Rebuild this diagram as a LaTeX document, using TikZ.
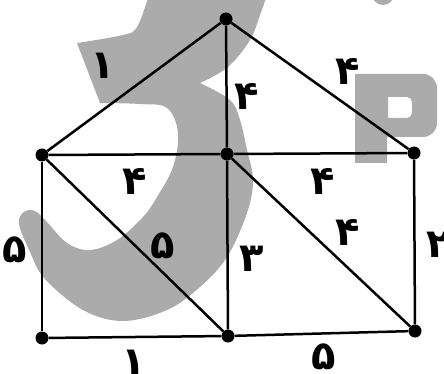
\documentclass[tikz,border=0pt]{standalone}
\usepackage{fontspec}
\newfontfamily\fafont[Script=Arabic]{DejaVu Sans}
\tikzset{
  wm/.style={fill=black!33},
  edge/.style={line width=2.5pt, black},
  vtx/.style={circle, fill=black, inner sep=0pt, minimum size=13pt},
  lbl/.style={font=\fafont\bfseries\fontsize{40}{40}\selectfont, inner sep=0pt}
}
\begin{document}
\begin{tikzpicture}[x=1pt,y=-1pt]
\useasboundingbox (0,0) rectangle (444,374);
% watermark "3"
\fill[wm] (77,43) -- (100,103) -- plot[smooth,tension=0.6] coordinates {(100,103) (140,104) (167,108) (178,133) (173,167) (157,197) (143,217) (117,240) (90,250) (67,243) (47,222) (35,211) (24,212) (19,224) (30,252) (45,279) (83,310) (123,321) (167,310) (200,287) (227,257) (247,213) (253,180) (247,150) (240,120) (230,100) (200,83)} -- plot[smooth,tension=0.6] coordinates {(200,83) (228,67) (250,40) (260,15) (266,-2)} -- (266,-6) -- (148,-6) -- plot[smooth,tension=0.6] coordinates {(148,-2) (137,27) (123,35) (77,43)} -- cycle;
\fill[wm] (383,-6) circle (11);
% watermark "P"
\fill[wm,even odd rule] (355,74) [rounded corners=14pt] -- (437,74) -- (437,137) [sharp corners] -- (387,137) -- (387,163) -- (355,163) -- cycle
  (388,97) [rounded corners=5pt] -- (412,97) -- (412,118) [sharp corners] -- (388,118) -- cycle;
% vertices
\node[vtx] (T) at (226,19) {};
\node[vtx] (L) at (42,155) {};
\node[vtx] (C) at (227,154) {};
\node[vtx] (R) at (414,153) {};
\node[vtx] (BL) at (42,338) {};
\node[vtx] (BC) at (228,336) {};
\node[vtx] (BR) at (415,331) {};
% edges
\draw[edge] (T) -- (L);
\draw[edge] (T) -- (C);
\draw[edge] (T) -- (R);
\draw[edge] (L) -- (C);
\draw[edge] (C) -- (R);
\draw[edge] (L) -- (BC);
\draw[edge] (C) -- (BR);
\draw[edge] (L) -- (BL);
\draw[edge] (C) -- (BC);
\draw[edge] (R) -- (BR);
\draw[edge] (BL) -- (BC);
\draw[edge] (BC) -- (BR);
% labels
\node[lbl] (l1) at (103,66) {۱};
\node[lbl] (l2) at (247,97) {۴};
\node[lbl] (l3) at (348,72) {۴};
\node[lbl] (l4) at (135,182) {۴};
\node[lbl] (l5) at (323,182) {۴};
\node[lbl] (l6) at (163,246) {۵};
\node[lbl] (l7) at (348,233) {۴};
\node[lbl] (l8) at (15,250) {۵};
\node[lbl] (l9) at (252,259) {۳};
\node[lbl] (l10) at (439,245) {۲};
\node[lbl] (l11) at (134,363) {۱};
\node[lbl] (l12) at (324,357) {۵};
\end{tikzpicture}
\end{document}
